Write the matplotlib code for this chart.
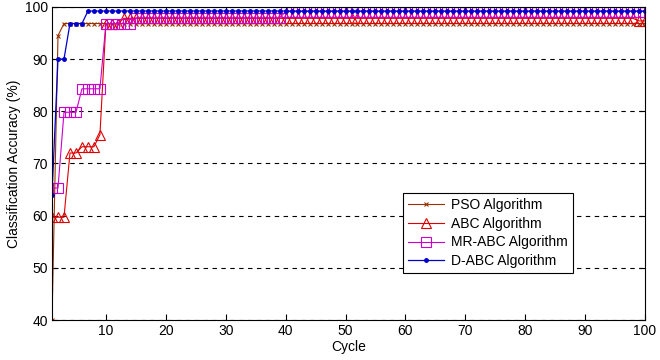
import matplotlib
matplotlib.use('Agg')
import matplotlib.pyplot as plt

plt.rcParams['font.family'] = ['Liberation Sans', 'DejaVu Sans']

# 数据：每个周期的分类准确率 (%)
cycles = list(range(1, 101))
pso = [40.0, 94.5] + [96.8] * 98
abc = [59.7, 59.7, 59.7, 72.0, 72.0, 73.2, 73.2, 73.2, 75.5, 96.8, 96.8, 96.8] + [97.8] * 86 + [97.3] * 2
mr_abc = [65.3, 65.3, 79.8, 79.8, 79.8, 84.3, 84.3, 84.3, 84.3,
          96.8, 96.8, 96.8, 96.8, 96.8] + [97.9] * 25 + [99.1] * 61
d_abc = [64.0, 90.0, 90.0, 96.8, 96.8, 96.8] + [99.2] * 94

labels = ['PSO Algorithm', 'ABC Algorithm', 'MR-ABC Algorithm', 'D-ABC Algorithm']
x_ticks = [10, 20, 30, 40, 50, 60, 70, 80, 90, 100]
y_ticks = [40, 50, 60, 70, 80, 90, 100]

fig = plt.figure(figsize=(6.6, 3.6), dpi=100)
ax = fig.add_axes([0.0788, 0.111, 0.8985, 0.870])

# 各算法折线
ax.plot(cycles, pso, color='#993300', marker='x', markersize=3.5, linewidth=0.8,
        markeredgewidth=0.8, label=labels[0])
ax.plot(cycles, abc, color='#E00000', marker='^', markersize=7, linewidth=0.8,
        markerfacecolor='none', markeredgewidth=0.8, label=labels[1])
ax.plot(cycles, mr_abc, color='#CC00CC', marker='s', markersize=7, linewidth=0.8,
        markerfacecolor='none', markeredgewidth=0.8, label=labels[2])
ax.plot(cycles, d_abc, color='#0000CC', marker='.', markersize=5, linewidth=0.9,
        label=labels[3])

ax.set_xlim(1, 100)
ax.set_ylim(40, 100)
ax.set_xticks(x_ticks)
ax.set_yticks(y_ticks)
ax.tick_params(direction='in', top=True, right=True, labelsize=10, length=4, width=0.8, pad=3)
ax.yaxis.grid(True, linestyle=(0, (4, 4)), color='black', linewidth=0.8)
for s in ax.spines.values():
    s.set_linewidth(0.8)

ax.set_xlabel('Cycle', fontsize=10, labelpad=1)
ax.set_ylabel('Classification Accuracy (%)', fontsize=10, labelpad=3)

leg = ax.legend(loc='upper left', bbox_to_anchor=(0.592, 0.406), borderaxespad=0,
                fontsize=10, fancybox=False, edgecolor='black', framealpha=1,
                handlelength=2.6, borderpad=0.35, labelspacing=0.35, handletextpad=0.5)
leg.get_frame().set_linewidth(0.8)

fig.savefig('out.png', dpi=100)
